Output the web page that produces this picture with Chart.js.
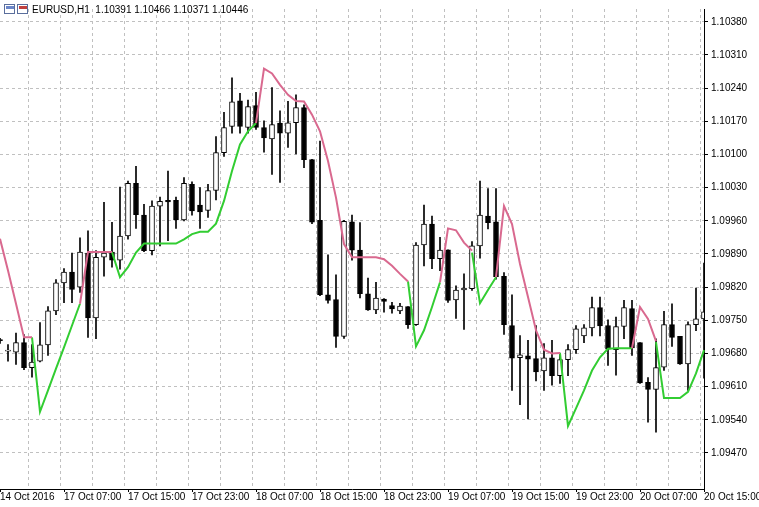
<!DOCTYPE html>
<html><head><meta charset="utf-8">
<script src="https://cdn.jsdelivr.net/npm/chart.js@4/dist/chart.umd.min.js"></script>
<style>html,body{margin:0;padding:0;background:#fff}#w{width:759px;height:507px}</style>
</head><body><div id="w"><canvas id="c"></canvas></div>
<script>
const opens=[1.09708,1.09685,1.09683,1.09703,1.09650,1.09664,1.09698,1.09770,1.09829,1.09852,1.09820,1.09892,1.09755,1.09883,1.09894,1.09877,1.09928,1.10039,1.09972,1.09897,1.09991,1.10003,1.10003,1.09962,1.10037,1.09993,1.09982,1.10024,1.10104,1.10159,1.10213,1.10157,1.10203,1.10157,1.10133,1.10166,1.10145,1.10167,1.10199,1.10089,1.09961,1.09804,1.09794,1.09716,1.09958,1.09898,1.09806,1.09772,1.09795,1.09781,1.09770,1.09779,1.09741,1.09909,1.09953,1.09880,1.09899,1.09793,1.09814,1.09817,1.09907,1.09970,1.09958,1.09843,1.09739,1.09671,1.09675,1.09669,1.09643,1.09671,1.09633,1.09667,1.09688,1.09717,1.09734,1.09777,1.09739,1.09688,1.09737,1.09775,1.09703,1.09619,1.09604,1.09651,1.09741,1.09716,1.09658,1.09741,1.09753];
const highs=[1.09712,1.09699,1.09723,1.09720,1.09699,1.09745,1.09779,1.09836,1.09859,1.09892,1.09924,1.09939,1.09897,1.09999,1.09957,1.10031,1.10044,1.10075,1.09995,1.10002,1.10010,1.10065,1.10010,1.10051,1.10042,1.10030,1.10037,1.10138,1.10189,1.10262,1.10229,1.10215,1.10231,1.10171,1.10241,1.10192,1.10212,1.10226,1.10205,1.10090,1.10128,1.09888,1.09846,1.09961,1.09972,1.09956,1.09839,1.09830,1.09796,1.09788,1.09786,1.09779,1.09914,1.09993,1.09970,1.09925,1.09899,1.09823,1.09848,1.09916,1.10044,1.10028,1.10028,1.09851,1.09804,1.09718,1.09708,1.09739,1.09701,1.09708,1.09681,1.09699,1.09739,1.09741,1.09799,1.09799,1.09751,1.09757,1.09792,1.09792,1.09703,1.09629,1.09711,1.09769,1.09785,1.09716,1.09747,1.09818,1.09871];
const lows=[1.09701,1.09664,1.09657,1.09646,1.09630,1.09662,1.09676,1.09762,1.09787,1.09787,1.09809,1.09714,1.09711,1.09843,1.09862,1.09858,1.09921,1.09944,1.09895,1.09888,1.09907,1.09918,1.09944,1.09960,1.09972,1.09944,1.09967,1.10004,1.10096,1.10145,1.10145,1.10145,1.10153,1.10105,1.10058,1.10041,1.10115,1.10101,1.10072,1.09954,1.09802,1.09786,1.09693,1.09712,1.09877,1.09797,1.09771,1.09764,1.09767,1.09765,1.09764,1.09733,1.09739,1.09865,1.09859,1.09855,1.09788,1.09754,1.09731,1.09813,1.09881,1.09943,1.09837,1.09720,1.09602,1.09572,1.09542,1.09622,1.09602,1.09613,1.09617,1.09633,1.09680,1.09703,1.09717,1.09717,1.09655,1.09634,1.09711,1.09676,1.09617,1.09535,1.09514,1.09644,1.09695,1.09657,1.09602,1.09728,1.09628];
const closes=[1.09707,1.09686,1.09703,1.09650,1.09662,1.09698,1.09770,1.09829,1.09852,1.09815,1.09894,1.09755,1.09883,1.09892,1.09877,1.09928,1.10039,1.09973,1.09897,1.09991,1.10001,1.10000,1.09962,1.10039,1.09981,1.09979,1.10024,1.10104,1.10157,1.10211,1.10159,1.10201,1.10157,1.10135,1.10163,1.10145,1.10167,1.10199,1.10089,1.09957,1.09804,1.09792,1.09716,1.09959,1.09898,1.09806,1.09772,1.09797,1.09790,1.09774,1.09780,1.09741,1.09909,1.09953,1.09880,1.09898,1.09792,1.09814,1.09818,1.09907,1.09972,1.09956,1.09842,1.09741,1.09670,1.09677,1.09668,1.09641,1.09671,1.09633,1.09667,1.09688,1.09732,1.09734,1.09777,1.09738,1.09689,1.09737,1.09777,1.09692,1.09618,1.09604,1.09650,1.09741,1.09714,1.09658,1.09741,1.09753,1.09768];
const N=null;
const upperLine=[1.09922,1.09855,1.09785,1.09714,1.09714,N,N,N,N,N,1.09785,1.09894,1.09894,1.09894,1.09894,N,N,N,N,N,N,N,N,N,N,N,N,N,N,N,N,N,1.10166,1.10281,1.10271,1.10247,1.10226,1.10213,1.10212,1.10184,1.10149,1.10086,1.10009,1.09911,1.09883,1.09883,1.09883,1.09883,1.09879,1.09865,1.09848,1.09832,N,N,N,1.09830,1.09944,1.09940,1.09914,1.09897,N,N,1.09841,1.09991,1.09953,1.09869,1.09799,1.09729,1.09688,1.09680,1.09681,N,N,N,N,N,N,N,N,1.09691,1.09778,1.09753,1.09706,N,N,N,N,N,N];
const lowerLine=[N,N,N,N,1.09714,1.09557,1.09602,1.09648,1.09693,1.09739,1.09785,N,N,N,1.09894,1.09841,1.09862,1.09893,1.09912,1.09912,1.09912,1.09912,1.09912,1.09921,1.09932,1.09937,1.09937,1.09954,1.10002,1.10065,1.10121,1.10149,1.10166,N,N,N,N,N,N,N,N,N,N,N,N,N,N,N,N,N,N,1.09832,1.09695,1.09729,1.09778,1.09830,N,N,N,1.09893,1.09786,1.09814,1.09841,N,N,N,N,N,N,N,1.09681,1.09527,1.09564,1.09602,1.09644,1.09672,1.09690,1.09691,1.09691,1.09691,N,N,1.09704,1.09586,1.09586,1.09586,1.09599,1.09638,1.09687];
const priceTicks=[1.09470,1.09540,1.09610,1.09680,1.09750,1.09820,1.09890,1.09960,1.10030,1.10100,1.10170,1.10240,1.10310,1.10380];
const startTime=Date.UTC(2016,9,17,0);
const months=['Jan','Feb','Mar','Apr','May','Jun','Jul','Aug','Sep','Oct','Nov','Dec'];
const labels=opens.map((_,i)=>{
  if(i===0)return '14 Oct 2016';
  const t=new Date(startTime+(i-1)*3600000);
  return t.getUTCDate()+' '+months[t.getUTCMonth()]+' '+String(t.getUTCHours()).padStart(2,'0')+':00';});
const header='EURUSD,H1  1.10391 1.10466 1.10371 1.10446';

const bodies=opens.map((o,i)=>[Math.min(o,closes[i]),Math.max(o,closes[i])]);
const wicks=lows.map((l,i)=>[l,highs[i]]);
const bodyColors=opens.map((o,i)=>closes[i]>=o?'#ffffff':'#000000');

const overlay={id:'overlay',afterDraw(ch){const c=ch.ctx,x=ch.scales.x,a=ch.chartArea;c.save();
  c.font='10px "Liberation Sans", Arial';c.fillStyle='#000';c.textBaseline='top';c.textAlign='left';
  labels.forEach((l,i)=>{if(i%8===0){const px=x.getPixelForValue(i);c.fillText(l,Math.max(0,px),a.bottom+3);
    c.fillRect(Math.round(px),a.bottom,1,3);}});
  c.fillStyle='#fff';c.fillRect(4,4,24,11);
  c.strokeStyle='#5a6e9c';c.strokeRect(4.5,4.5,10,9);c.strokeRect(17.5,4.5,10,9);
  c.fillStyle='#6b86c9';c.fillRect(6,6,8,3);c.fillStyle='#c04040';c.fillRect(19,6,8,3);
  c.fillStyle='#000';c.fillText(header,32,5);
  c.restore();}};

new Chart(document.getElementById('c'),{
  data:{labels,datasets:[
    {type:'line',data:upperLine,borderColor:'#d9698f',borderWidth:2,pointRadius:0,spanGaps:false,tension:0,order:0},
    {type:'line',data:lowerLine,borderColor:'#32cd32',borderWidth:2,pointRadius:0,spanGaps:false,tension:0,order:0},
    {type:'bar',data:wicks,backgroundColor:'#000',barThickness:1,grouped:false,order:2},
    {type:'bar',data:bodies,backgroundColor:bodyColors,borderColor:'#000',borderWidth:1,borderSkipped:false,barThickness:5,grouped:false,minBarLength:1,order:1}
  ]},
  options:{responsive:true,maintainAspectRatio:false,animation:false,
    layout:{padding:0},
    plugins:{legend:{display:false},tooltip:{enabled:false}},
    scales:{
      x:{type:'category',offset:false,afterFit(s){s.height=18;},
        ticks:{display:false},
        grid:{color:(c)=>(c.index%4===0&&c.index>0)?'#c0c0c0':'rgba(0,0,0,0)',tickLength:0,drawTicks:false},
        border:{display:true,color:'#000',dash:[3,3]}},
      y:{position:'right',min:1.09394,max:1.10407,afterFit(s){s.width=55;},
        afterBuildTicks(s){s.ticks=priceTicks.map(v=>({value:v}));},
        ticks:{font:{size:10,family:'"Liberation Sans", Arial'},color:'#000',padding:3,callback:v=>v.toFixed(5)},
        grid:{color:'#c0c0c0',tickLength:4,tickColor:'#000'},
        border:{display:true,color:'#000',dash:[3,3]}}
    }},
  plugins:[overlay]});
</script></body></html>
